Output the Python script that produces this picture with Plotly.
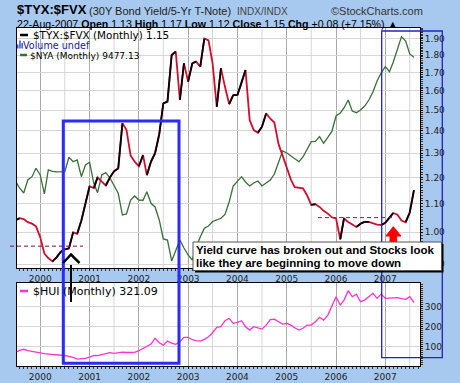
import numpy as np
import pandas as pd
import plotly.graph_objects as go

# ---------------- data (monthly, Jul 1999 .. Aug 2007) ----------------
dates = pd.date_range("1999-07-01", "2007-08-01", freq="MS")
date_str = [d.strftime("%Y-%m-%d") for d in dates]

ratio = [1.040, 1.048, 1.045, 1.034, 1.029, 1.020,
         0.984, 0.932, 0.918, 0.908, 0.920, 0.937, 0.945, 0.948, 1.000, 0.995, 1.040, 1.100,
         1.165, 1.158, 1.200, 1.183, 1.168, 1.200, 1.225, 1.236, 1.436, 1.405, 1.290, 1.264,
         1.245, 1.292, 1.209, 1.265, 1.300, 1.385, 1.534, 1.543, 1.802, 1.822, 1.552, 1.753,
         1.649, 1.753, 1.762, 1.733, 1.903, 1.891, 1.753, 1.517, 1.724, 1.621, 1.531, 1.577,
         1.577, 1.645, 1.714, 1.451, 1.404, 1.392, 1.420, 1.484, 1.458, 1.440, 1.340, 1.290,
         1.243, 1.190, 1.162, 1.160, 1.157, 1.130, 1.095, 1.098, 1.088, 1.074, 1.064, 1.051,
         1.047, 0.977, 1.047, 1.035, 1.026, 1.018, 1.029, 1.035, 1.035, 1.030, 1.026, 1.024,
         1.032, 1.050, 1.066, 1.060, 1.040, 1.034, 1.068, 1.150]

nya = [6425, 6252, 6128, 6449, 6531, 6738,
       6573, 6104, 6696, 6660, 6650, 6660, 6654, 7009, 6901, 6943, 6531, 6819,
       6886, 6368, 6136, 6572, 6629, 6498, 6301, 6121, 5585, 5610, 5955, 6054,
       5955, 5950, 6160, 5874, 5783, 5462, 4993, 4968, 4450, 4721, 4968, 4771,
       4598, 4475, 4796, 5042, 5257, 5314, 5425, 5462, 5504, 5598, 5906, 6301,
       6424, 6531, 6400, 6301, 6375, 6424, 6301, 6375, 6449, 6597, 6893, 7165,
       7115, 7041, 6967, 6901, 7017, 7214, 7394, 7400, 7518, 7355, 7510, 7646,
       8029, 8103, 8226, 8423, 8152, 8110, 8177, 8275, 8423, 8621, 8892, 9090,
       9245, 9122, 9361, 9695, 9986, 9880, 9559, 9477]

hui = [70, 82, 87, 80, 77, 73,
       67, 65, 63, 62, 60, 58, 56, 52, 47, 38, 39, 42,
       48, 57, 55, 60, 65, 70, 67, 70, 73, 71, 70, 72,
       80, 90, 100, 113, 142, 120, 108, 128, 118, 112, 125, 147,
       147, 135, 130, 128, 137, 150, 170, 197, 200, 230, 242, 217,
       222, 230, 200, 183, 200, 195, 188, 208, 235, 238, 225, 213,
       217, 208, 195, 183, 192, 208, 208, 225, 247, 233, 258, 300,
       350, 308, 333, 380, 350, 363, 325, 333, 350, 367, 342, 363,
       342, 342, 342, 345, 340, 337, 350, 321]

years = list(range(2000, 2008))
ratio_ticks = [0.90, 1.00, 1.10, 1.20, 1.30, 1.40, 1.50, 1.60, 1.70, 1.80, 1.90]
hui_ticks = [100, 200, 300]
breakout_level = 1.05
low_level = 0.955

# ---------------- layout geometry (pixels) ----------------
W, H = 460, 383
ML, MR, MT, MB = 17, 40, 28, 17
PW, PH = W - ML - MR, H - MT - MB


def PX(x):
    return (x - ML) / PW


def PY(y):
    return (H - MB - y) / PH


MAIN_DOM = [PY(268), 1.0]
HUI_DOM = [0.0, PY(283)]
R_LO, R_HI = -0.0515, 0.2946  # log10 range of ratio axis


def PYlog(v):
    return MAIN_DOM[0] + (np.log10(v) - R_LO) / (R_HI - R_LO) * (MAIN_DOM[1] - MAIN_DOM[0])


BG = "#a7c9ef"
RED = "#cc1030"
GREEN = "#3a6e3a"
MAGENTA = "#ff33cc"
GRID = "#d6d6d6"
YGRID = "#a9a9a9"
TICKFONT = dict(family="DejaVu Sans, Verdana", size=9, color="#222")
HDR = "Liberation Sans, Arial"

# ---------------- traces ----------------
fig = go.Figure()
fig.add_trace(go.Scatter(x=date_str, y=nya, mode="lines", xaxis="x", yaxis="y",
                         line=dict(color=GREEN, width=1.3), hoverinfo="skip"))
fig.add_trace(go.Scatter(x=date_str, y=ratio, mode="lines", xaxis="x", yaxis="y3",
                         line=dict(color=RED, width=1.8), hoverinfo="skip"))
up_x, up_y = [], []
for i in range(1, len(ratio)):
    if ratio[i] >= ratio[i - 1]:
        up_x += [date_str[i - 1], date_str[i], None]
        up_y += [ratio[i - 1], ratio[i], None]
fig.add_trace(go.Scatter(x=up_x, y=up_y, mode="lines", xaxis="x", yaxis="y3",
                         line=dict(color="black", width=1.8), hoverinfo="skip"))
fig.add_trace(go.Scatter(x=date_str, y=hui, mode="lines", xaxis="x2", yaxis="y2",
                         line=dict(color=MAGENTA, width=1.3), hoverinfo="skip"))

# ---------------- axes ----------------
xrange = ["1999-07-13", "2007-09-15"]
jan = [f"{y}-01-01" for y in years]
xcommon = dict(type="date", range=xrange, tickmode="array", tickvals=jan,
               ticktext=[str(y) for y in years], tickfont=TICKFONT, automargin=False,
               showgrid=True, gridcolor=YGRID, gridwidth=1,
               showline=True, linecolor="black", linewidth=1, mirror=True,
               ticks="outside", ticklen=2, tickcolor="black",
               minor=dict(dtick="M1", ticks="outside", ticklen=2, tickcolor="#333", showgrid=False),
               zeroline=False)
fig.update_layout(
    xaxis=dict(domain=[0, 1], anchor="y", **xcommon),
    xaxis2=dict(domain=[0, 1], anchor="y2", matches="x", **xcommon),
    yaxis=dict(domain=MAIN_DOM, range=[4277, 10200], showgrid=False, showticklabels=False,
               zeroline=False, showline=False, ticks="", automargin=False),
    yaxis3=dict(type="log", overlaying="y", side="right", anchor="x", range=[R_LO, R_HI],
                tickmode="array", tickvals=ratio_ticks, ticktext=[f"{v:.2f}" for v in ratio_ticks],
                tickfont=TICKFONT, showgrid=True, gridcolor=GRID, zeroline=False, automargin=False,
                showline=True, linecolor="black", linewidth=1, mirror=True,
                ticks="outside", ticklen=2, tickcolor="black",
                minor=dict(tickmode="array", tickvals=list(np.round(np.arange(0.89, 1.98, 0.01), 2)),
                           ticks="outside", ticklen=2, tickcolor="#333", showgrid=False)),
    yaxis2=dict(domain=HUI_DOM, anchor="x2", side="right", range=[3.5, 418.5],
                tickmode="array", tickvals=hui_ticks, tickfont=TICKFONT, automargin=False,
                showgrid=True, gridcolor=GRID, zeroline=False,
                showline=True, linecolor="black", linewidth=1, mirror=True,
                ticks="outside", ticklen=2, tickcolor="black",
                minor=dict(dtick=10, ticks="outside", ticklen=2, tickcolor="#333", showgrid=False)),
)

# ---------------- shapes ----------------
shapes = []
for y in range(1999, 2008):
    d = f"{y}-07-01"
    if xrange[0] < d < xrange[1]:
        shapes.append(dict(type="line", xref="x", yref="y domain", x0=d, x1=d, y0=0, y1=1,
                           line=dict(color=GRID, width=1), layer="below"))
        shapes.append(dict(type="line", xref="x2", yref="y2 domain", x0=d, x1=d, y0=0, y1=1,
                           line=dict(color=GRID, width=1), layer="below"))


def pline(x0, y0, x1, y1, color, width, dash="solid"):
    return dict(type="line", xref="paper", yref="paper", x0=PX(x0), y0=PY(y0), x1=PX(x1), y1=PY(y1),
                line=dict(color=color, width=width, dash=dash))


def prect(x0, y0, x1, y1, line_color, width, fill="rgba(0,0,0,0)"):
    return dict(type="rect", xref="paper", yref="paper", x0=PX(x0), y0=PY(y1), x1=PX(x1), y1=PY(y0),
                line=dict(color=line_color, width=width), fillcolor=fill)


# dashed support / breakout levels
shapes.append(dict(type="line", xref="paper", yref="paper", x0=PX(10), x1=PX(83),
                   y0=PYlog(low_level), y1=PYlog(low_level),
                   line=dict(color="#7a1040", width=1, dash="4px,3px")))
shapes.append(dict(type="line", xref="paper", yref="paper", x0=PX(318), x1=PX(393),
                   y0=PYlog(breakout_level), y1=PYlog(breakout_level),
                   line=dict(color="#7a2060", width=1, dash="4px,3px")))

# highlight boxes
shapes.append(prect(63.3, 121, 179, 363.3, "#2b2bff", 3))
shapes.append(prect(381.7, 31, 442.3, 357.7, "#2323b8", 1.3))

# black caret arrow
shapes.append(dict(type="path", xref="paper", yref="paper",
                   path=f"M {PX(63)},{PY(263)} L {PX(71)},{PY(254.5)} L {PX(79.5)},{PY(263)}",
                   line=dict(color="black", width=2.5)))
shapes.append(pline(71, 265, 71, 302, "black", 2))

# red arrow
ra = [(393.3, 226.7), (401, 236), (396.7, 236), (396.7, 243), (390, 243), (390, 236), (386, 236)]
shapes.append(dict(type="path", xref="paper", yref="paper",
                   path="M " + " L ".join(f"{PX(x)},{PY(y)}" for x, y in ra) + " Z",
                   fillcolor="#ff0000", line=dict(color="#ff0000", width=1)))

# annotation box with shadow
shapes.append(prect(195, 244, 443.5, 272.5, "black", 0, "black"))
shapes.append(prect(193, 242, 441.5, 270.5, "#555", 1, "white"))

# legend markers
shapes.append(pline(20, 35, 28, 35, "black", 2.5))
shapes.append(pline(20, 55, 27, 55, GREEN, 2.5))
shapes.append(pline(20, 291, 28, 291, MAGENTA, 2.5))
for (x0, x1, yt) in [(17, 18.5, 44.5), (19.2, 20.7, 40.5), (21.4, 22.9, 43)]:
    shapes.append(prect(x0, yt, x1, 48.5, "#3355cc", 0, "#3355cc"))

fig.update_layout(shapes=shapes)

# ---------------- text ----------------
ann = []


def text(x, y, s, size, family, color="black", anchor="left"):
    ann.append(dict(xref="paper", yref="paper", x=PX(x), y=PY(y), text=s, showarrow=False,
                    xanchor=anchor, yanchor="middle", font=dict(size=size, family=family, color=color),
                    borderpad=0))


text(15.5, 10, "<b>$TYX:$FVX</b>", 13, HDR)
text(87.5, 11, "(30Y Bond Yield/5-Yr T-Note)", 11, HDR, "#222")
text(235.5, 11, "INDX/INDX", 10, HDR, "#444")
text(329.5, 10.5, "©StockCharts.com", 11, HDR, "#333")
text(15.5, 24, "22-Aug-2007 <b>Open</b> 1.13 <b>High</b> 1.17 <b>Low</b> 1.12 "
         "<b>Close</b> 1.15 <b>Chg</b> +0.08 (+7.15%) ▲", 10.6, HDR)

LEG = "DejaVu Sans, Verdana"
text(31.5, 35.3, "$TYX:$FVX (Monthly) 1.15", 10.4, LEG)
text(22, 45.8, "Volume undef", 9.6, LEG, "#1a1a90")
text(28.5, 56, "$NYA (Monthly) 9477.13", 9, LEG)
text(31.5, 291, "$HUI (Monthly) 321.09", 11, LEG)

text(195, 249.5, "<b>Yield curve has broken out and Stocks look</b>", 11.5, HDR)
text(195, 263.3, "<b>like they are beginning to move down</b>", 11.5, HDR)

fig.update_layout(annotations=ann)

fig.update_layout(width=W, height=H, margin=dict(l=ML, r=MR, t=MT, b=MB, pad=0, autoexpand=False),
                  paper_bgcolor=BG, plot_bgcolor="white", showlegend=False)

fig.write_html("out.html", config={"displayModeBar": False},
               post_script="document.body.style.margin='0px';")
